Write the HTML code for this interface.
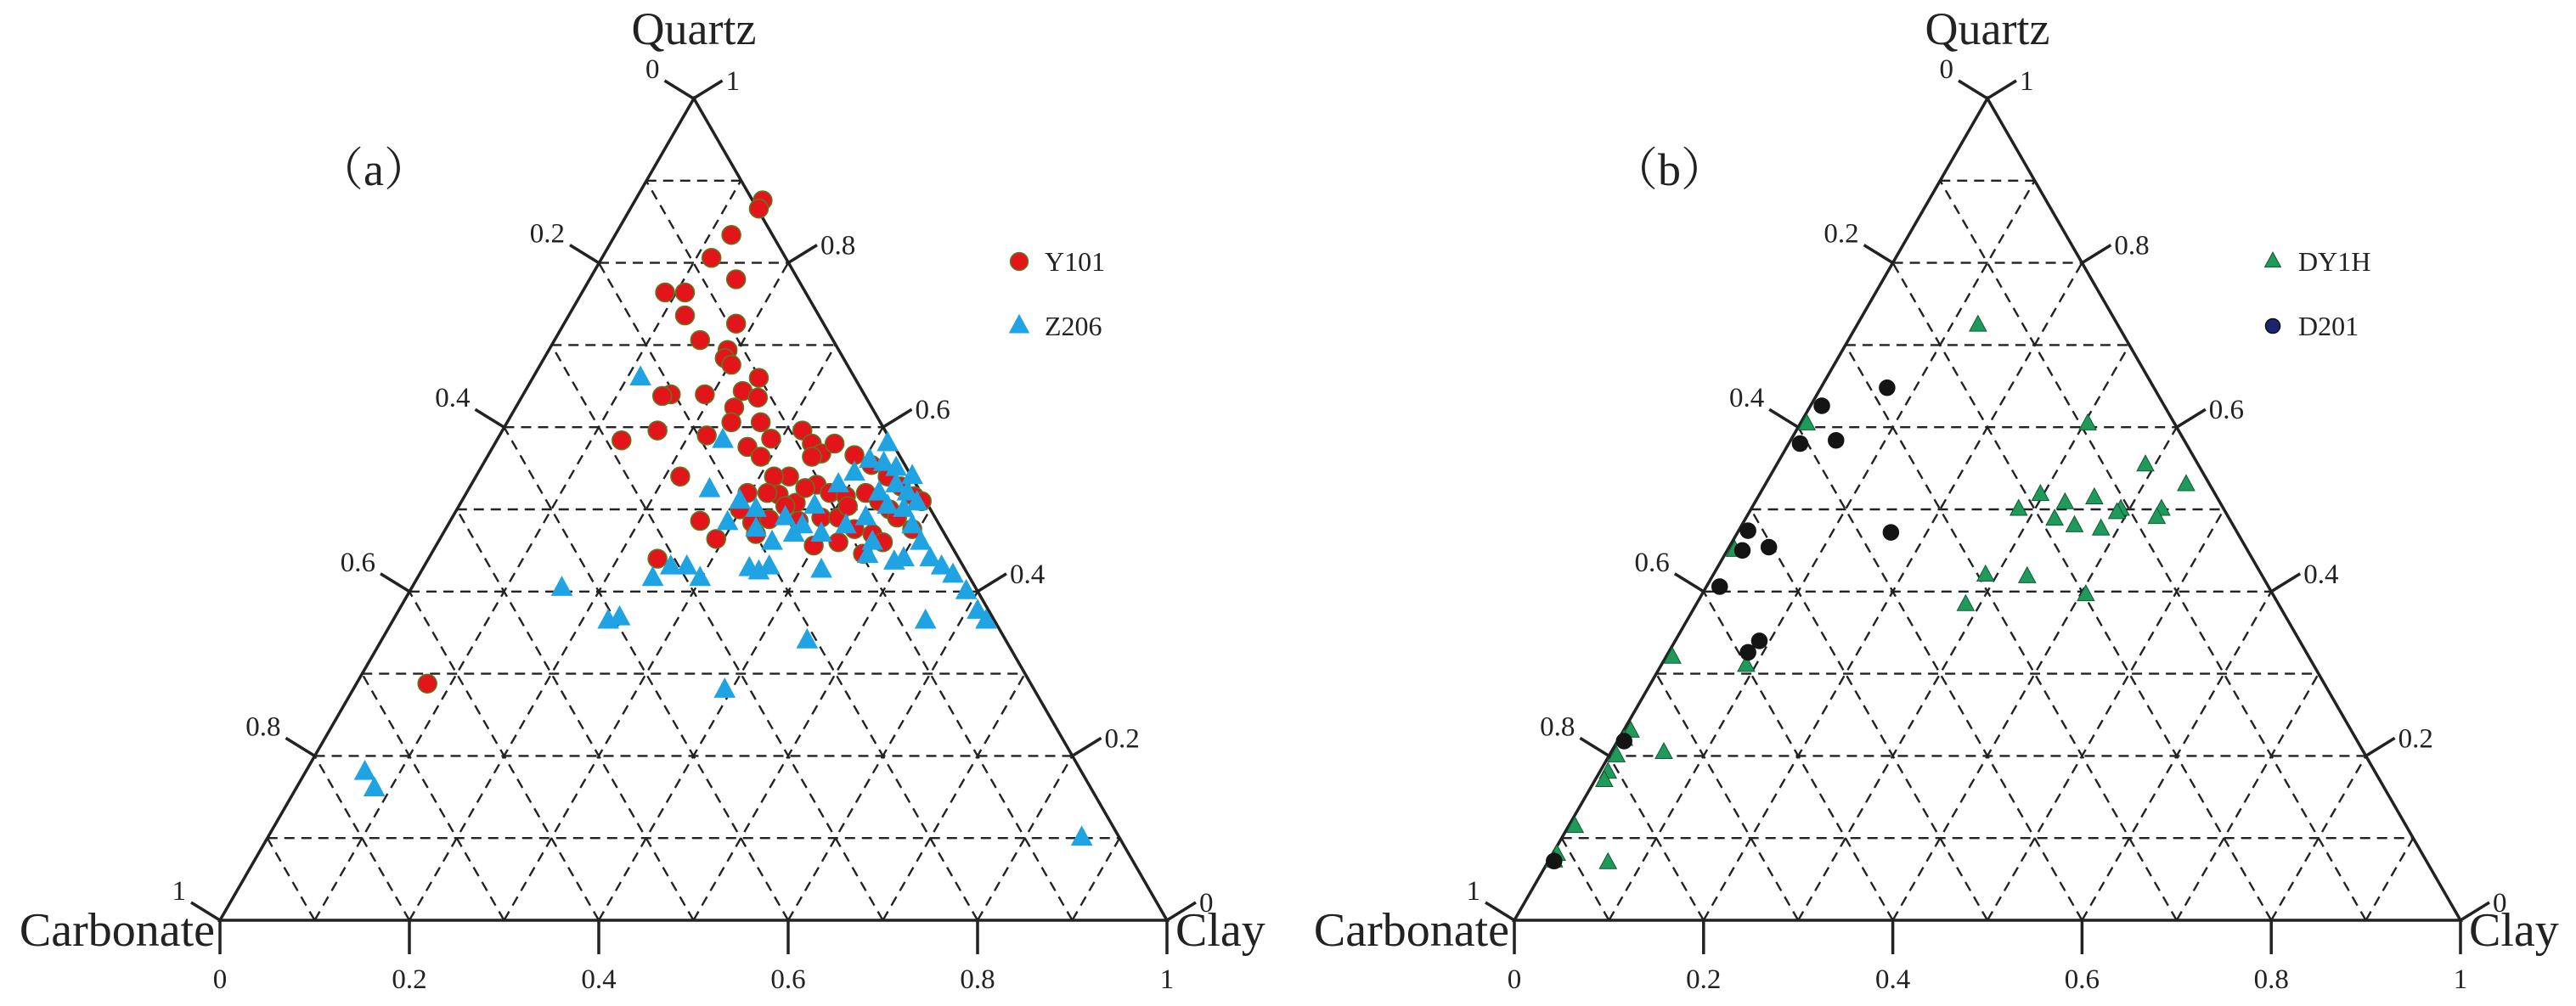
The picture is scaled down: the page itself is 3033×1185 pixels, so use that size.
<!DOCTYPE html>
<html><head><meta charset="utf-8"><style>
html,body{margin:0;padding:0;background:#fff;}
svg{display:block;}
text{font-family:"Liberation Serif","Noto Serif CJK SC",serif;fill:#222;}
</style></head><body>
<svg id="chart" width="3033" height="1185" viewBox="0 0 3033 1185" xmlns="http://www.w3.org/2000/svg"></svg>
<script>
// ---- data: [quartz, clay] fractions ----
const y101Quartz=[.876,.866,.834,.806,.78,.764,.764,.736,.726,.706,.694,.684,.676,.66,.644,.64,.624,.636,.64,.638,.606,.606,.59,.584,.596,.586,.596,.58,.576,.564,.54,.54,.54,.568,.564,.58,.566,.554,.54,.528,.53,.52,.516,.52,.51,.5,.49,.518,.508,.52,.52,.5,.484,.488,.486,.49,.49,.476,.47,.46,.476,.486,.464,.47,.456,.446,.44,.288,.46,.504,.504,.526,.516,.51];
const y101Clay=[.135,.136,.123,.116,.155,.088,.109,.123,.182,.154,.189,.191,.202,.239,.230,.192,.231,.250,.156,.148,.268,.237,.219,.132,.164,.289,.317,.335,.269,.289,.331,.216,.315,.351,.343,.359,.387,.411,.435,.455,.365,.384,.403,.422,.441,.457,.470,.331,.354,.318,.297,.299,.320,.336,.368,.390,.408,.432,.454,.470,.493,.264,.292,.331,.399,.456,.242,.075,.423,.411,.345,.355,.475,.486];
const z206Quartz=[.66,.584,.544,.53,.504,.524,.51,.5,.484,.49,.48,.47,.48,.49,.52,.53,.504,.5,.48,.46,.44,.43,.42,.4,.376,.364,.43,.428,.43,.43,.416,.416,.404,.364,.368,.424,.426,.436,.364,.34,.28,.18,.16,.1,.444,.46,.44,.47,.46,.476,.55,.556,.56,.52,.508,.58,.54];
const z206Clay=[.114,.239,.398,.388,.376,.255,.294,.316,.294,.352,.375,.400,.421,.437,.436,.449,.453,.472,.491,.510,.530,.547,.564,.588,.612,.627,.365,.345,.278,.261,.249,.299,.159,.228,.238,.357,.422,.494,.563,.450,.393,.063,.083,.860,.462,.459,.502,.371,.353,.328,.439,.423,.406,.466,.482,.415,.461];
const dy1hQuartz=[.724,.604,.604,.518,.508,.514,.5,.554,.53,.5,.49,.496,.476,.48,.5,.488,.42,.418,.396,.384,.31,.32,.204,.23,.22,.2,.18,.17,.114,.08,.072,.07,.45];
const dy1hClay=[.128,.304,.007,.297,.328,.356,.391,.390,.445,.434,.434,.389,.382,.352,.283,.327,.288,.333,.406,.285,.090,.007,.056,.008,.006,.008,.009,.010,.007,.005,.006,.064,.008];
const d201Quartz=[.626,.648,.584,.58,.474,.454,.45,.472,.34,.326,.406,.218,.072];
const d201Clay=[.012,.070,.048,.012,.010,.042,.016,.162,.089,.084,.014,.007,.006];
const gridLevels=[0.1,0.2,0.3,0.4,0.5,0.6,0.7,0.8,0.9];
const tickLevels=[0,0.2,0.4,0.6,0.8,1];
const tickLabels=["0","0.2","0.4","0.6","0.8","1"];

const NS="http://www.w3.org/2000/svg";
const svg=document.getElementById('chart');
function mk(tag,attrs,parent){const e=document.createElementNS(NS,tag);for(const k in attrs)e.setAttribute(k,attrs[k]);(parent||svg).appendChild(e);return e;}

function drawPanel(P,label,series){
  const g=mk('g',{});
  
  
  const W=P.rx-P.lx, H=P.base-P.ay;
  const pt=(q,c)=>[P.lx+W*(c+q/2), P.base-H*q];
  const gg=mk('g',{stroke:'#222','stroke-width':2.4,'stroke-dasharray':'12,8',fill:'none'},g);
  
  
  gridLevels.forEach(v=>{
    let a=pt(v,0),b=pt(v,1-v); mk('line',{x1:a[0],y1:a[1],x2:b[0],y2:b[1]},gg);
    a=pt(0,v);b=pt(1-v,v); mk('line',{x1:a[0],y1:a[1],x2:b[0],y2:b[1]},gg);
    a=pt(0,1-v);b=pt(1-v,0); mk('line',{x1:a[0],y1:a[1],x2:b[0],y2:b[1]},gg);
  });
  const tri=mk('polygon',{points:`${P.ax},${P.ay} ${P.lx},${P.base} ${P.rx},${P.base}`,fill:'none',stroke:'#222','stroke-width':3.5},g);
  
  
  const tg=mk('g',{stroke:'#222','stroke-width':3.5},g);
  
  
  const lab=(x,y,t,anchor,size)=>{const e=mk('text',{x:x,y:y,'font-size':size||33,'text-anchor':anchor||'middle'},g);e.textContent=t;return e;};
  tickLevels.forEach((v,i)=>{
    let p=pt(0,v); mk('line',{x1:p[0],y1:p[1],x2:p[0],y2:p[1]+40},tg);
    lab(p[0],p[1]+80,tickLabels[i]);
    p=pt(1-v,0); mk('line',{x1:p[0],y1:p[1],x2:p[0]-34,y2:p[1]-21},tg);
    lab(p[0]-40,p[1]-24,tickLabels[i],'end');
    p=pt(v,1-v); mk('line',{x1:p[0],y1:p[1],x2:p[0]+34,y2:p[1]-21},tg);
    lab(p[0]+38,p[1]-10,tickLabels[i],'start');
  });
  let t=mk('text',{x:P.ax,y:52,'font-size':54,'text-anchor':'middle'},g);t.textContent='Quartz';
  
  t=mk('text',{x:P.lx-6,y:P.base+30,'font-size':56,'text-anchor':'end'},g);t.textContent='Carbonate';
  
  t=mk('text',{x:P.rx+10,y:P.base+30,'font-size':56,'text-anchor':'start'},g);t.textContent='Clay';
  
  t=mk('text',{x:P.lx+115,y:218,'font-size':54,'text-anchor':'start','font-family':'"Liberation Sans","Noto Sans CJK SC",sans-serif'},g);t.textContent='（'+label+'）';
  
  const drawMark=(s,x,y,r,parent)=>{
    let e;
    if(s.shape==='circle') e=mk('circle',{cx:x,cy:y,r:r,fill:s.fill,stroke:s.stroke,'stroke-width':1.5},parent);
    else e=mk('polygon',{points:`${x},${y-r*1.15} ${x-r},${y+r*0.7} ${x+r},${y+r*0.7}`,fill:s.fill,stroke:s.stroke,'stroke-width':1},parent);
    return e;
  };
  series.forEach((s,si)=>{
    const sg=mk('g',{},g);
    
    
    s.q.forEach((q,i)=>{const p=pt(q,s.c[i]);const m=drawMark(s,p[0],p[1],s.r,sg);
      
      });
    const lg=mk('g',{},g);
    
    
    const ly=P.legY+si*76;
    drawMark(s.legend||s,P.legX,ly,s.r*0.95,lg);
    const lt=mk('text',{x:P.legX+30,y:ly+11,'font-size':32},lg);lt.textContent=s.name;
  });
}
drawPanel({ax:817,ay:116,lx:259,rx:1374,base:1084,legX:1200,legY:308},'a',[
  {name:'Y101',q:y101Quartz,c:y101Clay,shape:'circle',fill:'#e3151a',stroke:'#5a7a20',r:11},
  {name:'Z206',q:z206Quartz,c:z206Clay,shape:'tri',fill:'#1fa3e2',stroke:'#1fa3e2',r:12}
]);
drawPanel({ax:2340,ay:116,lx:1783,rx:2897,base:1084,legX:2676,legY:308},'b',[
  {name:'DY1H',q:dy1hQuartz,c:dy1hClay,shape:'tri',fill:'#1f9a5a',stroke:'#0e5a30',r:10},
  {name:'D201',q:d201Quartz,c:d201Clay,shape:'circle',fill:'#141414',stroke:'#141414',r:9,legend:{shape:'circle',fill:'#1c2470',stroke:'#111'}}
]);
</script>
</body></html>
